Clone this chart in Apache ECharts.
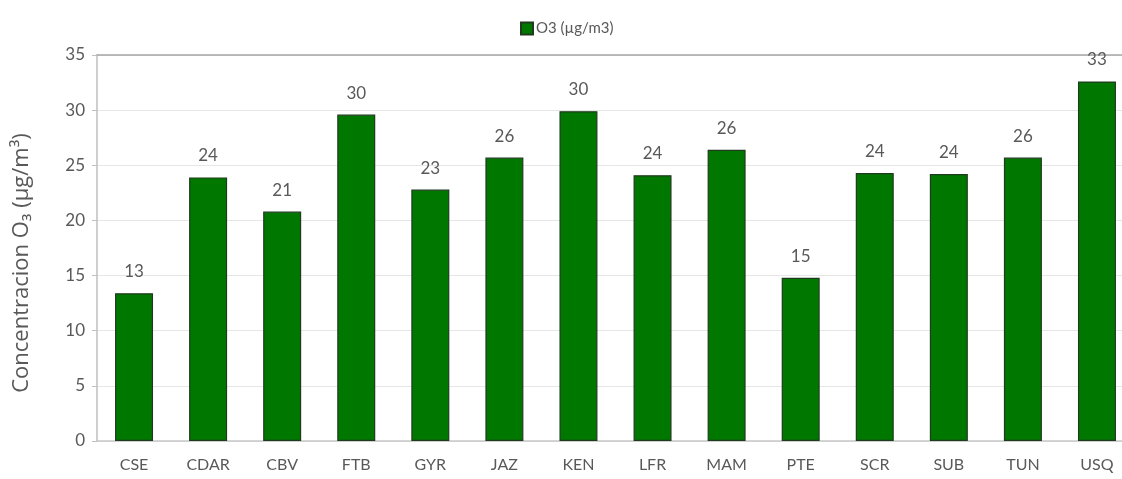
<!DOCTYPE html>
<html>
<head>
<meta charset="utf-8">
<script src="https://cdn.jsdelivr.net/npm/echarts@6/dist/echarts.min.js"></script>
<style>
  html, body { margin: 0; padding: 0; background: #fff; overflow: hidden; }
  #chart { width: 1140px; height: 479px; }
</style>
</head>
<body>
<div id="chart"></div>
<script>
// Monitoring stations and mean ozone concentration (µg/m³)
const stations = ['CSE', 'CDAR', 'CBV', 'FTB', 'GYR', 'JAZ', 'KEN', 'LFR', 'MAM', 'PTE', 'SCR', 'SUB', 'TUN', 'USQ'];
const o3Values = [13.4, 23.9, 20.8, 29.6, 22.8, 25.7, 29.9, 24.1, 26.4, 14.8, 24.3, 24.2, 25.7, 32.6];
const yTicks = [0, 5, 10, 15, 20, 25, 30, 35];

const FONT = 'Lato, "Open Sans", sans-serif';
const TEXT = '#595959';

const chart = echarts.init(document.getElementById('chart'), null, { renderer: 'canvas' });

chart.setOption({
  animation: false,
  textStyle: { fontFamily: FONT },
  legend: {
    top: 16,
    left: 515,
    itemWidth: 12,
    itemHeight: 12,
    itemGap: 4,
    icon: 'rect',
    textStyle: { color: TEXT, fontSize: 15, fontFamily: FONT, padding: [0, 0, 0, -2] },
    data: ['O3 (µg/m3)']
  },
  // the plot runs slightly past the right edge of the visible page
  grid: { left: 97, top: 55, width: 1037, bottom: 38, containLabel: false },
  xAxis: [{
    type: 'category',
    data: stations,
    axisLine: { lineStyle: { color: '#c8c8c8', width: 1.5 } },
    axisTick: { show: false },
    axisLabel: { color: TEXT, fontSize: 16, margin: 16, fontFamily: FONT }
  }, {
    type: 'category',
    position: 'top',
    data: stations,
    axisLine: { lineStyle: { color: '#a6a6a6', width: 1.5 } },
    axisTick: { show: false },
    axisLabel: { show: false }
  }],
  yAxis: {
    type: 'value',
    min: yTicks[0],
    max: yTicks[yTicks.length - 1],
    interval: 5,
    name: 'Concentracion O\u2083 (\u00b5g/m\u00b3)',
    nameLocation: 'middle',
    nameGap: 64,
    nameTextStyle: {
      color: TEXT,
      fontSize: 22,
      fontFamily: '"Open Sans", Lato, sans-serif',
      padding: [0, 30, 0, 0]
    },
    axisLine: { show: true, lineStyle: { color: '#bfbfbf', width: 1.5 } },
    axisTick: { show: true, inside: false, length: 5, lineStyle: { color: '#bfbfbf' } },
    axisLabel: { color: TEXT, fontSize: 17, margin: 12, fontFamily: FONT },
    splitLine: { lineStyle: { color: '#e6e6e6', width: 1 } }
  },
  series: [{
    name: 'O3 (µg/m3)',
    type: 'bar',
    data: o3Values,
    barWidth: 38,
    itemStyle: { color: '#007800', borderColor: '#1f3a1f', borderWidth: 1.2 },
    label: {
      show: true,
      position: 'top',
      distance: 13,
      color: TEXT,
      fontSize: 17,
      fontFamily: FONT,
      formatter: p => Math.round(p.value)
    }
  }]
});
</script>
</body>
</html>
